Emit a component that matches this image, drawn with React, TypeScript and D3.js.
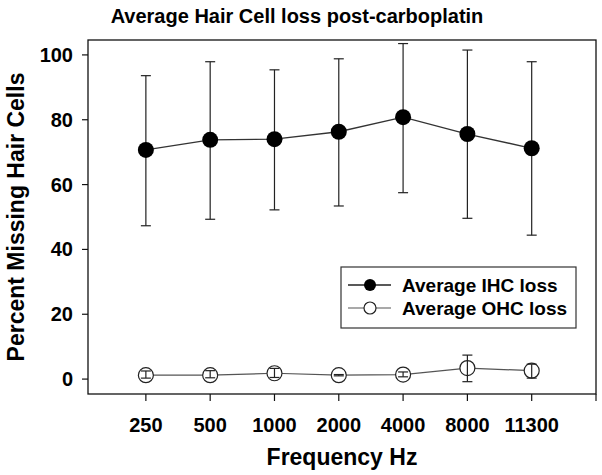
import * as d3 from 'd3'

const frequencies = ['250', '500', '1000', '2000', '4000', '8000', '11300']
const ihcMean = [70.7, 73.8, 74.0, 76.3, 80.8, 75.6, 71.2]
const ihcHigh = [93.6, 97.9, 95.4, 98.8, 103.5, 101.5, 97.9]
const ihcLow = [47.3, 49.3, 52.2, 53.4, 57.5, 49.6, 44.4]
const ohcMean = [1.2, 1.2, 1.8, 1.2, 1.4, 3.4, 2.6]
const ohcHigh = [2.5, 2.6, 3.3, 1.4, 2.2, 7.4, 4.6]
const ohcLow = [0.3, 0.4, 0.5, 1.0, 0.7, -0.8, 0.3]
const yTicks = [0, 20, 40, 60, 80, 100]

const W = 602
const H = 475
const margin = { top: 40, right: 6, bottom: 81, left: 88 }
const FONT = 'Arial, "Liberation Sans", sans-serif'

export default function App() {
  const x = d3.scaleLinear().domain([-0.9, 7]).range([margin.left, W - margin.right])
  const y = d3.scaleLinear().domain([-4.6, 104.6]).range([H - margin.bottom, margin.top])
  const idx = frequencies.map((_, i) => i)

  const line = d3.line<number>().x(d => x(d[0])).y(d => y(d[1]))
  const ihcPath = line(idx.map(i => [i, ihcMean[i]]) as any)
  const ohcPath = line(idx.map(i => [i, ohcMean[i]]) as any)

  const cap = 5
  const errBar = (i: number, lo: number, hi: number, key: string) => (
    <g key={key} stroke="#222" strokeWidth={1.2}>
      <line x1={x(i)} x2={x(i)} y1={y(lo)} y2={y(hi)} />
      <line x1={x(i) - cap} x2={x(i) + cap} y1={y(hi)} y2={y(hi)} />
      <line x1={x(i) - cap} x2={x(i) + cap} y1={y(lo)} y2={y(lo)} />
    </g>
  )

  const x0 = margin.left
  const x1 = W - margin.right
  const yTop = margin.top
  const yBot = H - margin.bottom

  return (
    <svg width={W} height={H} style={{ position: 'absolute', left: 0, top: 0, background: '#fff' }} fontFamily={FONT}>
      <rect x={0} y={0} width={W} height={H} fill="#fff" />
      <text x={297} y={23} textAnchor="middle" fontSize={20} fontWeight="bold">
        Average Hair Cell loss post-carboplatin
      </text>

      {/* frame */}
      <rect x={x0} y={yTop} width={x1 - x0} height={yBot - yTop} fill="none" stroke="#111" strokeWidth={1.3} />

      {/* y axis */}
      {yTicks.map(t => (
        <g key={t}>
          <line x1={x0 - 6} x2={x0} y1={y(t)} y2={y(t)} stroke="#111" strokeWidth={1.2} />
          <text x={73} y={y(t) + 7} textAnchor="end" fontSize={20} fontWeight="bold">{t}</text>
        </g>
      ))}
      <text
        transform={`translate(24,${(yTop + yBot) / 2}) rotate(-90)`}
        textAnchor="middle" fontSize={23} fontWeight="bold"
      >Percent Missing Hair Cells</text>

      {/* x axis */}
      {[...idx, 7].map(i => (
        <line key={i} x1={x(i)} x2={x(i)} y1={yBot} y2={yBot + 7} stroke="#111" strokeWidth={1.2} />
      ))}
      {frequencies.map((f, i) => (
        <text key={f} x={x(i)} y={432} textAnchor="middle" fontSize={20} fontWeight="bold">{f}</text>
      ))}
      <text x={342} y={465} textAnchor="middle" fontSize={23} fontWeight="bold">Frequency Hz</text>

      {/* IHC */}
      {idx.map(i => errBar(i, ihcLow[i], ihcHigh[i], 'ie' + i))}
      <path d={ihcPath || ''} fill="none" stroke="#333" strokeWidth={1.3} />
      {idx.map(i => (
        <circle key={'ic' + i} cx={x(i)} cy={y(ihcMean[i])} r={8} fill="#000" />
      ))}

      {/* OHC */}
      <path d={ohcPath || ''} fill="none" stroke="#555" strokeWidth={1.2} />
      {idx.map(i => (
        <circle key={'oc' + i} cx={x(i)} cy={y(ohcMean[i])} r={7.5} fill="#fff" stroke="#222" strokeWidth={1.2} />
      ))}
      {idx.map(i => errBar(i, ohcLow[i], ohcHigh[i], 'oe' + i))}

      {/* legend */}
      <rect x={341} y={267} width={235} height={61} fill="#fff" stroke="#333" strokeWidth={1.2} />
      <line x1={348} x2={391} y1={285} y2={285} stroke="#222" strokeWidth={1.3} />
      <circle cx={370} cy={285} r={6} fill="#000" />
      <text x={402} y={292} fontSize={19} fontWeight="bold">Average IHC loss</text>
      <line x1={348} x2={391} y1={308} y2={308} stroke="#555" strokeWidth={1.2} />
      <circle cx={370} cy={308} r={6} fill="#fff" stroke="#222" strokeWidth={1.2} />
      <text x={402} y={315} fontSize={19} fontWeight="bold">Average OHC loss</text>
    </svg>
  )
}
